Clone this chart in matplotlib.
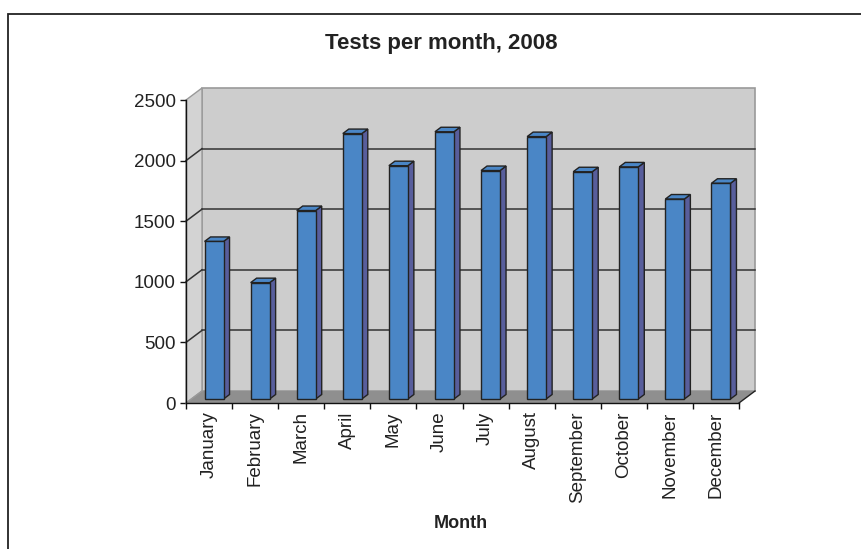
import matplotlib
matplotlib.use("Agg")
import matplotlib.pyplot as plt
from matplotlib.patches import Polygon, Rectangle
from matplotlib.lines import Line2D

plt.rcParams['font.family'] = ['Liberation Sans', 'DejaVu Sans']

months = ["January", "February", "March", "April", "May", "June", "July",
          "August", "September", "October", "November", "December"]
tests = [1300, 960, 1555, 2190, 1925, 2205, 1885, 2165, 1875, 1915, 1650, 1780]
yticks = [0, 500, 1000, 1500, 2000, 2500]
title = "Tests per month, 2008"
xlabel = "Month"

W, H = 861, 549
fig = plt.figure(figsize=(W / 100, H / 100), dpi=100)
fig.patch.set_facecolor("white")

# axes = front plane of the 3D box
ax_l, ax_r, ax_top, ax_bot = 186, 739, 100, 403
ax = fig.add_axes([ax_l / W, (H - ax_bot) / H, (ax_r - ax_l) / W, (ax_bot - ax_top) / H])
ax.set_facecolor("none")
n = len(months)
ax.set_xlim(-0.5, n - 0.5)
ax.set_ylim(0, 2500)

# pixel -> data conversion
sx = n / (ax_r - ax_l)
sy = 2500 / (ax_bot - ax_top)

def off(x, y, dx, dy):
    return (x + dx * sx, y + dy * sy)

DX, DY = 16, 12          # depth of the box (pixels)
FX, FY = 5, 4            # bar front-face offset into the box
BX, BY = 6, 4.5          # bar depth
bar_w = 19 * sx

x0, x1 = -0.5, n - 0.5
ymax = 2500

wall_c = "#cdcdcd"
side_c = "#d3d3d3"
floor_c = "#8f8f8f"
edge_gray = "#9a9a9a"

# back wall
back = Polygon([off(x0, 0, DX, DY), off(x1, 0, DX, DY), off(x1, ymax, DX, DY), off(x0, ymax, DX, DY)],
               closed=True, facecolor=wall_c, edgecolor=edge_gray, lw=1.2, clip_on=False, zorder=1)
ax.add_patch(back)
# side wall
side = Polygon([(x0, 0), (x0, ymax), off(x0, ymax, DX, DY), off(x0, 0, DX, DY)],
               closed=True, facecolor=side_c, edgecolor=edge_gray, lw=1.0, clip_on=False, zorder=1)
ax.add_patch(side)
# floor
floor = Polygon([(x0, 0), (x1, 0), off(x1, 0, DX, DY), off(x0, 0, DX, DY)],
                closed=True, facecolor=floor_c, edgecolor="none", clip_on=False, zorder=1.5)
ax.add_patch(floor)
# floor right edge
fx_end = off(x1, 0, DX, DY)
ax.add_line(Line2D([x1, fx_end[0]], [0, fx_end[1]], color="#222222", lw=1.0, clip_on=False, zorder=2))
# side wall bottom edge
sb = off(x0, 0, DX, DY)
ax.add_line(Line2D([x0, sb[0]], [0, sb[1]], color=edge_gray, lw=1.0, clip_on=False, zorder=2))

# gridlines
for v in yticks[1:-1]:
    a = off(x0, v, DX, DY)
    b = off(x1, v, DX, DY)
    ax.add_line(Line2D([a[0], b[0]], [a[1], b[1]], color="#333333", lw=1.1, clip_on=False, zorder=2))
    ax.add_line(Line2D([x0, a[0]], [v, a[1]], color="#333333", lw=1.1, clip_on=False, zorder=2))

# bars
front_c = "#4a86c6"
side_bar_c = "#585e9c"
top_c = "#4a86c6"
ec = "#222222"
xs = list(range(n))
fdx, fdy = FX * sx, FY * sy
bdx, bdy = BX * sx, BY * sy
for i, v in zip(xs, tests):
    L = i - bar_w / 2 + fdx
    R = i + bar_w / 2 + fdx
    y0b = fdy
    y1b = v + fdy
    ax.add_patch(Polygon([(R, y0b), (R, y1b), (R + bdx, y1b + bdy), (R + bdx, y0b + bdy)],
                         closed=True, facecolor=side_bar_c, edgecolor=ec, lw=1.0,
                         clip_on=False, zorder=3, joinstyle="miter"))
    ax.add_patch(Polygon([(L, y1b), (R, y1b), (R + bdx, y1b + bdy), (L + bdx, y1b + bdy)],
                         closed=True, facecolor=top_c, edgecolor=ec, lw=1.0,
                         clip_on=False, zorder=3, joinstyle="miter"))
ax.bar([i + fdx for i in xs], tests, width=bar_w, bottom=fdy, color=front_c,
       edgecolor=ec, linewidth=1.0, zorder=4, clip_on=False)

# axes styling
for s in ["top", "right"]:
    ax.spines[s].set_visible(False)
for s in ["left", "bottom"]:
    ax.spines[s].set_color("#111111")
    ax.spines[s].set_linewidth(1.0)
    ax.spines[s].set_zorder(5)

ax.set_yticks(yticks)
ax.set_yticklabels([str(t) for t in yticks], fontsize=13.5, color="#222222")
ax.tick_params(axis="y", length=4, width=1, pad=3.5, color="#111111")

ax.set_xticks(xs)
ax.set_xticklabels(months, rotation=90, fontsize=13.5, color="#222222")
ax.tick_params(axis="x", which="major", length=0, pad=6)
ax.set_xticks([k - 0.5 for k in range(n + 1)], minor=True)
ax.tick_params(axis="x", which="minor", length=4, width=1, color="#111111")

fig.text(441 / W, 1 - 44 / H, title, ha="center", va="center",
         fontsize=16, fontweight="bold", color="#222222")
fig.text(461 / W, 1 - 523 / H, xlabel, ha="center", va="center",
         fontsize=13, fontweight="bold", color="#222222")

# outer frame (cut at right and bottom)
frame = Rectangle((8 / W, -0.1), 1.2, (H - 14) / H + 0.1, transform=fig.transFigure,
                  facecolor="none", edgecolor="#222222", lw=1.3, clip_on=False)
fig.patches.append(frame)

fig.savefig("out.png", dpi=100)
